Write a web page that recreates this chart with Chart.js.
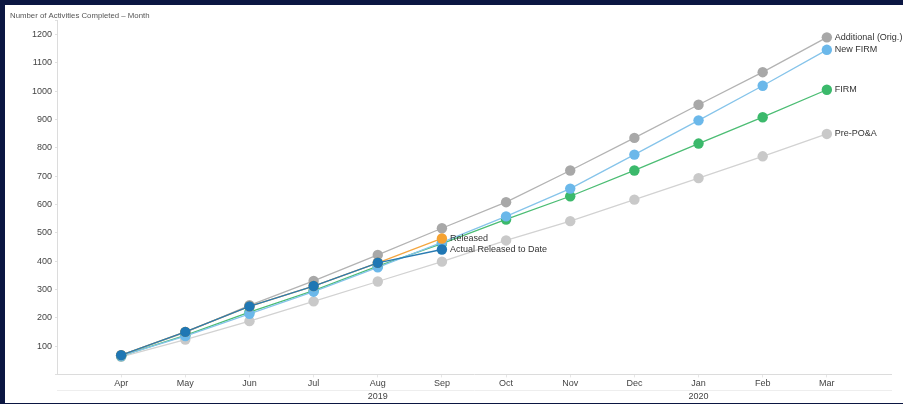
<!DOCTYPE html>
<html>
<head>
<meta charset="utf-8">
<script src="https://cdn.jsdelivr.net/npm/chart.js@4"></script>
<style>
  html, body { margin: 0; padding: 0; background: #0b1642; }
  #panel { position: absolute; left: 5px; top: 5px; width: 898px; height: 398px; background: #ffffff; }
  canvas { display: block; }
</style>
</head>
<body>
<div id="panel"><canvas id="c" width="898" height="398"></canvas></div>
<script>
// ---- data ----
const months = ['Apr','May','Jun','Jul','Aug','Sep','Oct','Nov','Dec','Jan','Feb','Mar'];
const yearLabels = ['', '', '', '', '2019', '', '', '', '', '2020', '', ''];
const titleText = 'Number of Activities Completed \u2013 Month';

const additionalOrig = [68, 148, 244, 330, 422, 516, 608, 720, 835, 952, 1067, 1190];
const newFirm        = [65, 135, 214, 292, 378, 466, 558, 656, 776, 897, 1019, 1146];
const firm           = [65, 138, 220, 296, 382, 462, 547, 629, 720, 815, 908, 1005];
const prePOA         = [62, 123, 188, 258, 328, 398, 473, 541, 617, 693, 770, 849];
const released       = [68, 150, 240, 312, 394, 480];
const actualReleased = [68, 150, 240, 312, 394, 441];

const yTickStep = 100;

function pts(arr) { return arr.map((v, i) => ({ x: i, y: v })); }

function ds(label, values, color, lineColor) {
  return {
    label: label,
    data: pts(values),
    borderColor: lineColor,
    backgroundColor: color,
    pointBackgroundColor: color,
    pointBorderColor: color,
    pointBorderWidth: 0,
    pointRadius: 5.2,
    borderWidth: 1.3,
    tension: 0
  };
}

const datasets = [
  ds('Actual Released to Date', actualReleased, '#1f77b4', '#2a7bb2'),
  ds('Released', released, '#f5a231', '#f4a640'),
  ds('New FIRM', newFirm, '#6bb8ea', '#86c4ea'),
  ds('FIRM', firm, '#3bb96b', '#4cbd74'),
  ds('Additional (Orig.)', additionalOrig, '#a8a8a8', '#b3b3b3'),
  ds('Pre-PO&A', prePOA, '#c9c9c9', '#d2d2d2')
];

const endLabels = {
  id: 'endLabels',
  afterDatasetsDraw(chart) {
    const ctx = chart.ctx;
    ctx.save();
    ctx.font = '9px "Liberation Sans", Arial, sans-serif';
    ctx.fillStyle = '#333333';
    ctx.textBaseline = 'middle';
    ctx.textAlign = 'left';
    chart.data.datasets.forEach((d, i) => {
      const meta = chart.getDatasetMeta(i);
      const p = meta.data[meta.data.length - 1];
      ctx.fillText(d.label, p.x + 8, p.y);
    });
    ctx.restore();
  }
};

new Chart(document.getElementById('c'), {
  type: 'line',
  data: { datasets: datasets },
  options: {
    responsive: false,
    animation: false,
    layout: { padding: { left: 5, right: 12, top: 0, bottom: 0 } },
    plugins: {
      legend: { display: false },
      tooltip: { enabled: false },
      title: {
        display: true,
        text: titleText,
        align: 'start',
        color: '#555555',
        font: { family: '"Liberation Sans", Arial, sans-serif', size: 7.8, weight: 'normal' },
        padding: { top: 6, bottom: 0 }
      }
    },
    scales: {
      x: {
        type: 'linear',
        min: -1,
        max: 12,
        weight: 0,
        ticks: {
          stepSize: 1,
          autoSkip: false,
          maxRotation: 0,
          padding: 1,
          color: '#444444',
          font: { family: '"Liberation Sans", Arial, sans-serif', size: 9 },
          callback: (v) => months[v] !== undefined ? months[v] : ''
        },
        grid: {
          drawOnChartArea: false, drawTicks: true, tickLength: 3,
          color: (c) => (c.tick && months[c.tick.value] !== undefined) ? '#e6e6e6' : 'rgba(0,0,0,0)'
        },
        border: { display: true, color: '#dcdcdc' }
      },
      xYear: {
        type: 'linear',
        position: 'bottom',
        min: -1,
        max: 12,
        weight: 1,
        ticks: {
          stepSize: 1,
          autoSkip: false,
          maxRotation: 0,
          padding: 1,
          color: '#444444',
          font: { family: '"Liberation Sans", Arial, sans-serif', size: 9 },
          callback: (v) => yearLabels[v] !== undefined ? yearLabels[v] : ''
        },
        grid: { display: false, drawTicks: false },
        border: { display: true, color: '#eeeeee' }
      },
      y: {
        type: 'linear',
        min: 0,
        max: 1250,
        ticks: {
          stepSize: yTickStep,
          autoSkip: false,
          padding: 3,
          color: '#444444',
          font: { family: '"Liberation Sans", Arial, sans-serif', size: 9 },
          callback: (v) => (v > 0 && v % yTickStep === 0) ? v : ''
        },
        grid: { drawOnChartArea: false, drawTicks: true, tickLength: 2, color: '#e0e0e0' },
        border: { display: true, color: '#dcdcdc' },
        afterFit: (scale) => { scale.width = 47; }
      }
    }
  },
  plugins: [endLabels]
});
</script>
</body>
</html>
